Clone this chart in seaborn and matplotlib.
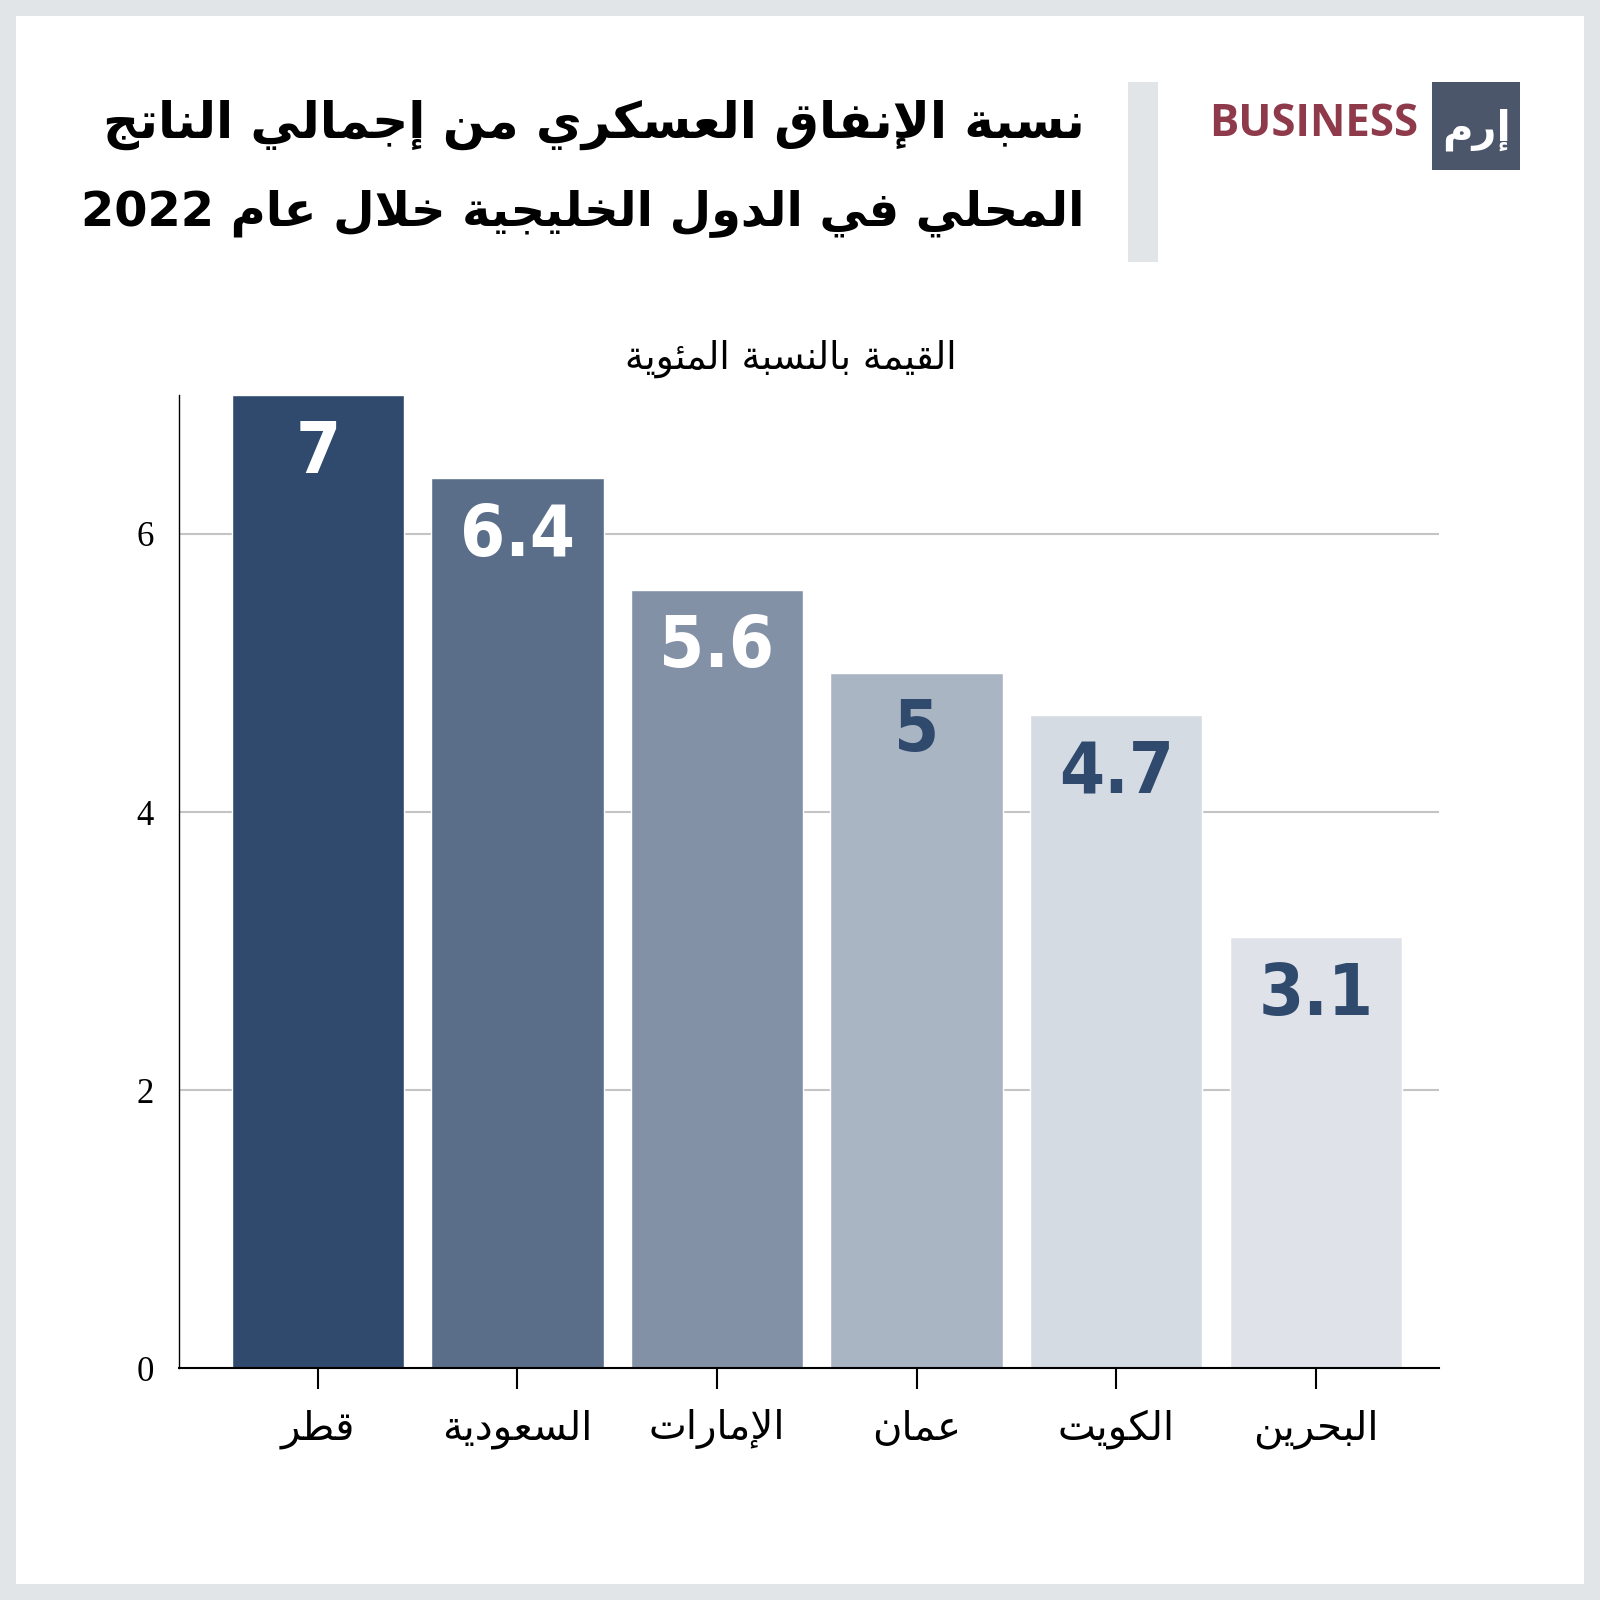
import re
import matplotlib
matplotlib.use("Agg")
import matplotlib.pyplot as plt
from matplotlib.patches import Rectangle
import seaborn as sns

# data
countries = ["قطر", "السعودية", "الإمارات", "عمان", "الكويت", "البحرين"]
values = [7, 6.4, 5.6, 5, 4.7, 3.1]
bar_colors = ["#2f4a6d", "#5a6e8a", "#8391a7", "#aab5c4", "#d5dbe3", "#dfe3e9"]
label_colors = ["white", "white", "white", "#2f4a6d", "#2f4a6d", "#2f4a6d"]
yticks = [0, 2, 4, 6]
title_1 = "نسبة الإنفاق العسكري من إجمالي الناتج"
title_2 = "المحلي في الدول الخليجية خلال عام 2022"
subtitle = "القيمة بالنسبة المئوية"
logo_ar = "إرم"

# small arabic shaper (matplotlib does no shaping / bidi)
_DUAL = {'ئ': 0xFE89, 'ب': 0xFE8F, 'ت': 0xFE95, 'ث': 0xFE99, 'ج': 0xFE9D, 'ح': 0xFEA1,
         'خ': 0xFEA5, 'س': 0xFEB1, 'ش': 0xFEB5, 'ص': 0xFEB9, 'ض': 0xFEBD, 'ط': 0xFEC1,
         'ظ': 0xFEC5, 'ع': 0xFEC9, 'غ': 0xFECD, 'ف': 0xFED1, 'ق': 0xFED5, 'ك': 0xFED9,
         'ل': 0xFEDD, 'م': 0xFEE1, 'ن': 0xFEE5, 'ه': 0xFEE9, 'ي': 0xFEF1}
_RIGHT = {'آ': 0xFE81, 'أ': 0xFE83, 'ؤ': 0xFE85, 'إ': 0xFE87, 'ا': 0xFE8D, 'ة': 0xFE93,
          'د': 0xFEA9, 'ذ': 0xFEAB, 'ر': 0xFEAD, 'ز': 0xFEAF, 'و': 0xFEED, 'ى': 0xFEEF}
_LAMALEF = {'آ': 0xFEF5, 'أ': 0xFEF7, 'إ': 0xFEF9, 'ا': 0xFEFB}


def shape(text):
    out = []
    n = len(text)
    prev = False
    i = 0
    while i < n:
        c = text[i]
        if c == 'ل' and i + 1 < n and text[i + 1] in _LAMALEF:
            out.append(chr(_LAMALEF[text[i + 1]] + (1 if prev else 0)))
            prev = False
            i += 2
            continue
        if c in _DUAL:
            nxt = i + 1 < n and (text[i + 1] in _DUAL or text[i + 1] in _RIGHT)
            k = 3 if (prev and nxt) else 1 if prev else 2 if nxt else 0
            out.append(chr(_DUAL[c] + k))
            prev = True
        elif c in _RIGHT:
            out.append(chr(_RIGHT[c] + (1 if prev else 0)))
            prev = False
        else:
            out.append(c)
            prev = False
        i += 1
    vis = ''.join(out)[::-1]
    return re.sub(r'[0-9.]+', lambda m: m.group(0)[::-1], vis)


sns.set_style("white")
plt.rcParams['font.family'] = ['DejaVu Sans']

fig = plt.figure(figsize=(16, 16), dpi=100)
fig.patch.set_facecolor("#e1e5e8")
fig.add_artist(Rectangle((0.01, 0.01), 0.98, 0.98, transform=fig.transFigure,
                         facecolor="white", edgecolor="none", zorder=0))

ax = fig.add_axes([0.1116, 0.1448, 0.7876, 0.6084])
ax.set_facecolor("none")
sns.barplot(x=list(range(len(countries))), y=values, hue=list(range(len(countries))),
            palette=bar_colors, legend=False, width=0.864, saturation=1, ax=ax, zorder=2)

ax.set_ylim(0, 7)
ax.set_xlim(-0.698, 5.616)
ax.set_yticks(yticks)
ax.set_yticklabels([str(t) for t in yticks], family="Liberation Serif", fontsize=25,
                   color="black")
for t in yticks[1:]:
    ax.axhline(t, color="#c4c4c4", lw=1.5, zorder=1)
ax.set_xticks(range(len(countries)))
ax.set_xticklabels([shape(c) for c in countries], fontsize=29, color="black")
ax.tick_params(axis="y", length=0, pad=18)
ax.tick_params(axis="x", bottom=True, length=15, width=1.5, color="black", pad=14,
               direction="out")
ax.set_xlabel("")
ax.set_ylabel("")
sns.despine(ax=ax, top=True, right=True)
ax.spines["left"].set_linewidth(1)
ax.spines["bottom"].set_linewidth(1.5)
ax.spines["left"].set_color("black")
ax.spines["bottom"].set_color("black")

for i, v in enumerate(values):
    ax.annotate(f"{v:g}", (i, v), xytext=(0, -42), textcoords="offset points",
                ha="center", va="center", fontsize=52, fontweight="bold",
                fontstretch="condensed", color=label_colors[i],
                family=["Liberation Sans Narrow", "DejaVu Sans"])

# titles
fig.text(0.678, 0.922, shape(title_1), ha="right", va="center", fontsize=36,
         fontweight="bold", color="black")
fig.text(0.678, 0.867, shape(title_2), ha="right", va="center", fontsize=34.5,
         fontweight="bold", color="black")
fig.text(0.494, 0.776, shape(subtitle), ha="center", va="center", fontsize=27,
         color="black")

# side bar + logo
fig.add_artist(Rectangle((0.7047, 0.836), 0.0192, 0.113, transform=fig.transFigure,
                         facecolor="#e1e5e8", edgecolor="none"))
fig.add_artist(Rectangle((0.8948, 0.8935), 0.0555, 0.0555, transform=fig.transFigure,
                         facecolor="#4b566a", edgecolor="none"))
fig.text(0.8865, 0.922, "BUSINESS", ha="right", va="center", fontsize=31.5,
         fontweight="bold", color="#8e3a4b", family="Open Sans")
fig.text(0.9226, 0.919, shape(logo_ar), ha="center", va="center", fontsize=30,
         fontweight="bold", color="white")

fig.savefig("out.png", dpi=100, facecolor=fig.get_facecolor())
